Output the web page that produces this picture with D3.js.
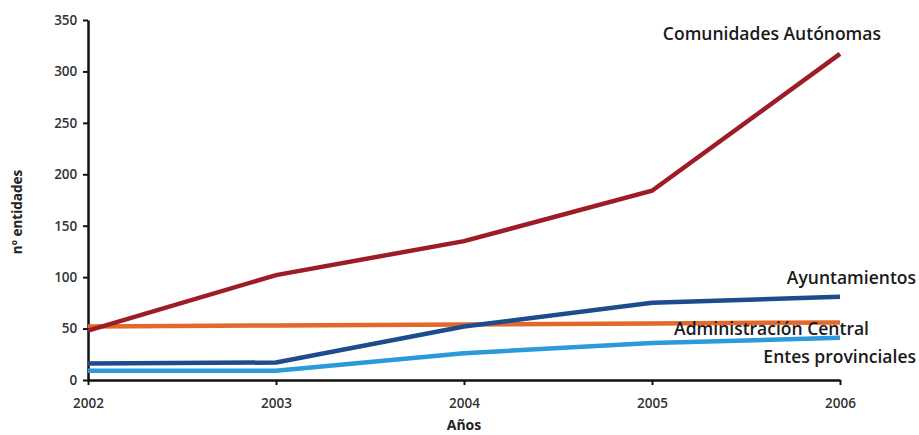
<!DOCTYPE html>
<html>
<head>
<meta charset="utf-8">
<script src="https://cdn.jsdelivr.net/npm/d3@7"></script>
<style>
  body { margin: 0; background: #fff; }
  svg text { font-family: "Open Sans", sans-serif; }
</style>
</head>
<body>
<svg width="919" height="435"></svg>
<script>
const years = [2002, 2003, 2004, 2005, 2006];
const yTicks = [0, 50, 100, 150, 200, 250, 300, 350];

const comunidades = [48, 102, 135, 184, 317];
const administracion = [52, 53, 54, 55, 56];
const ayuntamientos = [16, 17, 52, 75, 81];
const entes = [9, 9, 26, 36, 41];

const seriesNames = ["Comunidades Autónomas", "Administración Central", "Ayuntamientos", "Entes provinciales"];
const seriesColors = ["#9e1c26", "#e2682b", "#1d4b8b", "#2a9ad8"];

const svg = d3.select("svg");

const margin = { top: 20, right: 79, bottom: 55, left: 88 };
const width = 919 - margin.left - margin.right;
const height = 435 - margin.top - margin.bottom;

const chart = svg.append("g")
    .attr("transform", `translate(${margin.left},${margin.top})`);

// SCALES
const xScale = d3.scaleLinear().domain([2002, 2006]).range([0, width]);
const yScale = d3.scaleLinear().domain([0, 350]).range([height, 0]);

// AXES
const xAxis = chart.append("g")
    .attr("transform", `translate(0,${height})`)
    .call(d3.axisBottom(xScale).tickValues(years).tickFormat(d3.format("d")).tickSize(5).tickSizeOuter(0));

const yAxis = chart.append("g")
    .call(d3.axisLeft(yScale).tickValues(yTicks).tickSize(5).tickSizeOuter(0));

[xAxis, yAxis].forEach(a => {
    a.select(".domain").attr("stroke", "#111").attr("stroke-width", 2.5);
    a.selectAll(".tick line").attr("stroke", "#111").attr("stroke-width", 2);
    a.selectAll(".tick text")
        .attr("font-size", 13.5)
        .attr("font-weight", 600)
        .attr("fill", "#333");
});
xAxis.selectAll(".tick text").attr("dy", "1.5em");
yAxis.selectAll(".tick text").attr("dx", "-0.2em");

// LINES
const line = d3.line()
    .x((d, i) => xScale(years[i]))
    .y(d => yScale(d));

const seriesData = [comunidades, administracion, ayuntamientos, entes];
// orange drawn first, under the others
[1, 3, 2, 0].forEach(k => {
    chart.append("path")
        .datum(seriesData[k])
        .attr("fill", "none")
        .attr("stroke", seriesColors[k])
        .attr("stroke-width", 4.5)
        .attr("d", line);
});

// SERIES LABELS
const labelPos = [
    { x: 881, y: 40 },
    { x: 869, y: 335 },
    { x: 916, y: 284 },
    { x: 916, y: 363 }
];
seriesNames.forEach((name, k) => {
    svg.append("text")
        .attr("x", labelPos[k].x)
        .attr("y", labelPos[k].y)
        .attr("text-anchor", "end")
        .attr("font-size", 17.5)
        .attr("font-weight", 600)
        .attr("fill", "#1a1a1a")
        .text(name);
});

// AXIS TITLES
svg.append("text")
    .attr("transform", "translate(22,212) rotate(-90)")
    .attr("text-anchor", "middle")
    .attr("font-size", 13.5)
    .attr("font-weight", 700)
    .attr("fill", "#222")
    .text("nº entidades");

svg.append("text")
    .attr("x", margin.left + xScale(2004))
    .attr("y", 430)
    .attr("text-anchor", "middle")
    .attr("font-size", 14)
    .attr("font-weight", 700)
    .attr("fill", "#222")
    .text("Años");
</script>
</body>
</html>
